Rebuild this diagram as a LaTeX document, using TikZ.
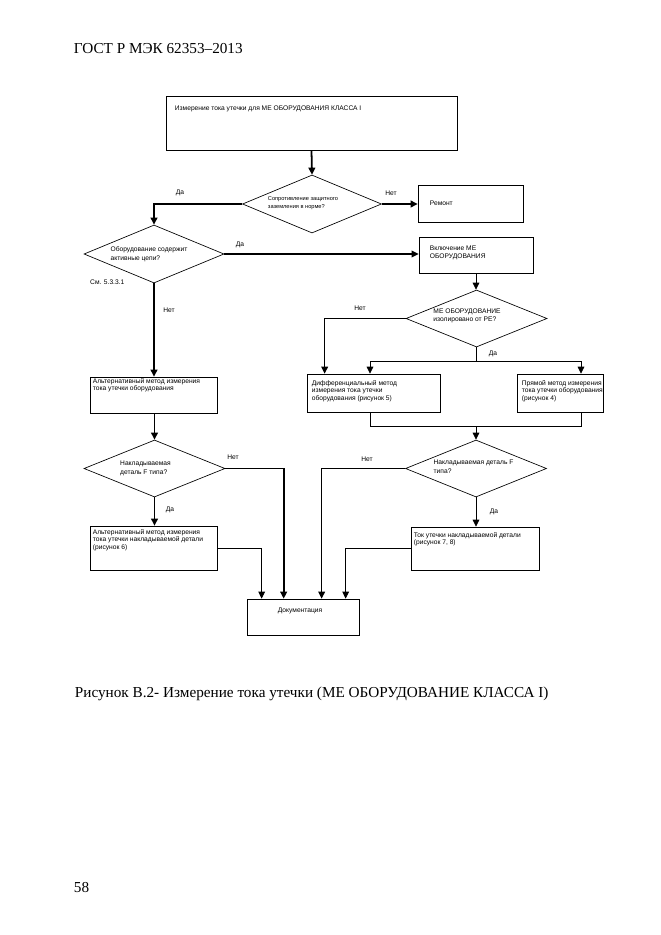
\documentclass[tikz,border=0pt]{standalone}
\usepackage{fontspec}
\setmainfont{Liberation Serif}
\newfontfamily\arialf{Liberation Sans}
\usepackage{tikz}
\usetikzlibrary{arrows.meta,calc,shapes.geometric}
\newcommand\fsm{\arialf\fontsize{6}{6.8}\selectfont}
\newcommand\fdia{\arialf\fontsize{6}{8.1}\selectfont}
\newcommand\ftiny{\arialf\fontsize{5.1}{7.5}\selectfont}
\newcommand\fpage{\fontsize{13.7}{16}\selectfont}

\begin{document}
\begin{tikzpicture}[x=0.9pt, y=-0.9pt,
    box/.style={draw, line width=0.6pt, inner sep=0pt},
    dia/.style={draw, diamond, line width=0.6pt, inner sep=0pt,
        minimum width=126.9pt, minimum height=51.3pt},
    intxt/.style={font=\fsm, align=left, inner sep=0pt, anchor=north west},
    ditxt/.style={font=\fdia, align=left, inner sep=0pt, anchor=center},
    lab/.style={font=\fsm, inner sep=0pt},
    arr/.style={-{Triangle[width=6pt,length=6.3pt]}},
    thk/.style={arr, line width=1.6pt},
    mid/.style={arr, line width=1.1pt},
    thn/.style={arr, line width=0.7pt}]
    \useasboundingbox (0,0) rectangle (661,935);
    \fill[white] (0,0) rectangle (661,935);
    \node[anchor=base west, font=\fpage] (head) at (70,53) {ГОСТ Р МЭК 62353–2013};
    %% boxes and decisions
    \node[box, minimum width=261.9pt, minimum height=48.6pt,
        label={[intxt, xshift=8.1pt, yshift=-9.4pt]north west:{Измерение тока утечки для МЕ ОБОРУДОВАНИЯ КЛАССА I}}]
        (meas) at (311.5,123) {};
    \node[dia, minimum width=125.1pt, minimum height=52.2pt,
        label={[ditxt, font=\ftiny, xshift=-8.1pt, yshift=0.9pt]center:{Сопротивление защитного\\заземления в норме?}}]
        (rcheck) at (312,204) {};
    \node[box, minimum width=94.5pt, minimum height=33.3pt,
        label={[intxt, xshift=10.8pt, yshift=-14pt]north west:Ремонт}]
        (repair) at (470.5,203.5) {};
    \node[dia, minimum width=126pt, minimum height=52.2pt,
        label={[ditxt, xshift=-4.5pt]center:{Оборудование содержит\\активные цепи?}}]
        (active) at (154,254) {};
    \node[box, minimum width=102.6pt, minimum height=32.4pt,
        label={[intxt, xshift=9.9pt, yshift=-8.5pt]north west:{Включение МЕ\\ОБОРУДОВАНИЯ}}]
        (switchon) at (476,255) {};
    \node[lab, anchor=west] (see) at (90,282) {См. 5.3.3.1};
    \node[dia, label={[ditxt, font=\fsm, xshift=-8.5pt, yshift=2.2pt]center:{МЕ ОБОРУДОВАНИЕ\\изолировано от PE?}}]
        (isol) at (476.5,318.5) {};
    \node[box, minimum width=119.7pt, minimum height=34.2pt,
        label={[intxt, xshift=4.5pt, yshift=-5.9pt]north west:{Дифференциальный метод\\измерения тока утечки\\оборудования (рисунок 5)}}]
        (diff) at (373.5,393) {};
    \node[box, minimum width=77.4pt, minimum height=34.2pt,
        label={[intxt, xshift=4.5pt, yshift=-5.9pt]north west:{Прямой метод измерения\\тока утечки оборудования\\(рисунок 4)}}]
        (direct) at (560,393) {};
    \node[box, minimum width=114.3pt, minimum height=32.4pt,
        label={[intxt, xshift=2.7pt, yshift=-1.4pt]north west:{Альтернативный метод измерения\\тока утечки оборудования}}]
        (alt1) at (153.5,395) {};
    \node[dia, label={[ditxt, xshift=-8.1pt]center:{Накладываемая\\деталь F типа?}}]
        (fcheckl) at (154.5,468.5) {};
    \node[dia, label={[ditxt, xshift=-2.2pt, yshift=1.3pt]center:{Накладываемая деталь F\\типа?}}]
        (fcheckr) at (476,468.5) {};
    \node[box, minimum width=114.3pt, minimum height=39.6pt,
        label={[intxt, xshift=2.7pt, yshift=-3.2pt]north west:{Альтернативный метод измерения\\тока утечки накладываемой детали\\(рисунок 6)}}]
        (alt2) at (153.5,548) {};
    \node[box, minimum width=115.2pt, minimum height=38.7pt,
        label={[intxt, xshift=2.7pt, yshift=-5pt]north west:{Ток утечки накладываемой детали\\(рисунок 7, 8)}}]
        (leak) at (475,548.5) {};
    \node[box, minimum width=100.8pt, minimum height=32.4pt,
        label={[intxt, xshift=27.9pt, yshift=-8.5pt]north west:Документация}]
        (doc) at (303,617) {};
    %% helper points
    \coordinate (nodiff) at ($(diff.north west)+(18,0)$);
    \coordinate (yesdiff) at ($(diff.north)+(-3.5,0)$);
    \coordinate (splitr) at (581,361);
    \coordinate (joinl) at ($(diff.south)+(-3.5,0)$);
    \coordinate (joinr) at (581,426);
    \coordinate (in1) at ($(doc.north west)+(15,0)$);
    \coordinate (in2) at ($(doc.north west)+(37,0)$);
    \coordinate (in3) at ($(doc.north west)+(75,0)$);
    \coordinate (in4) at ($(doc.north west)+(99,0)$);
    %% connectors
    \draw[thk] (meas.south) -- (rcheck.north);
    \draw[thk] (rcheck.west) -| (active.north);
    \draw[thk] (rcheck.east) -- (rcheck.east -| repair.west);
    \draw[mid] (active.east) -- (active.east -| switchon.west);
    \draw[thn] (switchon.south) -- (switchon.south |- isol.north);
    \draw[mid] (isol.west) -| (nodiff);
    \draw[line width=0.7pt] (isol.south) -- (isol.south |- splitr);
    \draw[thn] (splitr) -| (yesdiff);
    \draw[thn] (splitr) -- (splitr |- direct.north);
    \draw[line width=0.7pt] (joinl) |- (joinr) -- (joinr |- direct.south);
    \draw[thn] (fcheckr.north |- joinr) -- (fcheckr.north);
    \draw[thk] (active.south) -- (active.south |- alt1.north);
    \draw[thk] (fcheckl.north |- alt1.south) -- (fcheckl.north);
    \draw[thk] (fcheckl.south) -- (fcheckl.south |- alt2.north);
    \draw[thk] (fcheckl.east) -| (in2);
    \draw[thn] (alt2.east) -| (in1);
    \draw[mid] (fcheckr.west) -| (in3);
    \draw[thn] (leak.west) -| (in4);
    \draw[thn] (fcheckr.south) -- (fcheckr.south |- leak.north);
    %% yes / no
    \node[lab] (y1) at (180,193) {Да};
    \node[lab] (n1) at (391,193) {Нет};
    \node[lab] (y2) at (240,245) {Да};
    \node[lab] (n2) at (169,310) {Нет};
    \node[lab] (n3) at (360,308) {Нет};
    \node[lab] (y3) at (493,354) {Да};
    \node[lab] (n4) at (233,457) {Нет};
    \node[lab] (y4) at (170,510) {Да};
    \node[lab] (n5) at (367,459) {Нет};
    \node[lab] (y5) at (494,512) {Да};
    %%
    \node[anchor=base west, font=\fpage] (cap) at (71,697) {Рисунок В.2- Измерение тока утечки (МЕ ОБОРУДОВАНИЕ КЛАССА I)};
    \node[anchor=base west, font=\fpage] (page) at (70,892) {58};
\end{tikzpicture}
\end{document}
